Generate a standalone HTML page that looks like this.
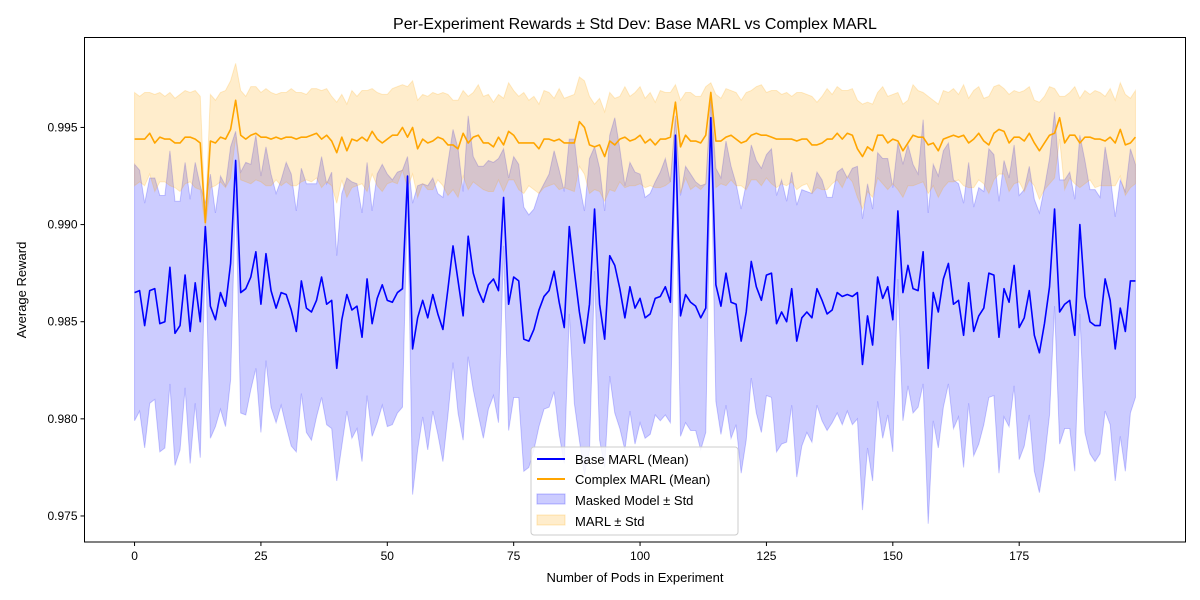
<!DOCTYPE html>
<html><head><meta charset="utf-8"><style>
html,body{margin:0;padding:0;background:#fff;}
svg{display:block;font-family:"Liberation Sans","DejaVu Sans",sans-serif;}
</style></head><body>
<svg id="chart" width="1200" height="600" viewBox="0 0 1200 600">
<rect x="0" y="0" width="1200" height="600" fill="#fff"/>
<text x="635" y="29" font-size="16" text-anchor="middle">Per-Experiment Rewards ± Std Dev: Base MARL vs Complex MARL</text>
<g id="plot"></g>
<rect x="84.5" y="37.5" width="1101" height="504.5" fill="none" stroke="#000" stroke-width="1"/>
<g id="xticks"></g><g id="yticks"></g>
<text x="635" y="582" font-size="13" text-anchor="middle">Number of Pods in Experiment</text>
<text x="26" y="290" font-size="13" text-anchor="middle" transform="rotate(-90 26 290)">Average Reward</text>
<g>
<rect x="531" y="447" width="207" height="88" rx="3" fill="#fff" fill-opacity="0.85" stroke="#ccc"/>
<g><line x1="537" y1="459" x2="565" y2="459" stroke="blue" stroke-width="2"/><text x="575" y="464" font-size="13">Base MARL (Mean)</text></g>
<g><line x1="537" y1="479" x2="565" y2="479" stroke="orange" stroke-width="2"/><text x="575" y="484" font-size="13">Complex MARL (Mean)</text></g>
<g><rect x="537" y="494" width="28" height="10" fill="rgba(0,0,255,0.2)" stroke="rgba(0,0,255,0.25)"/><text x="575" y="505" font-size="13">Masked Model ± Std</text></g>
<g><rect x="537" y="515" width="28" height="10" fill="rgba(255,165,0,0.2)" stroke="rgba(255,165,0,0.25)"/><text x="575" y="526" font-size="13">MARL ± Std</text></g>
</g>
</svg>
<script>
const baseMean=[.9865,.9866,.9848,.9866,.9867,.9849,.9850,.9878,.9844,.9848,
.9874,.9845,.9870,.9850,.9899,.9858,.9851,.9865,.9858,.9880,
.9933,.9865,.9867,.9873,.9886,.9859,.9885,.9866,.9857,.9865,
.9864,.9856,.9845,.9871,.9857,.9855,.9861,.9873,.9859,.9861,
.9826,.9851,.9864,.9856,.9858,.9842,.9872,.9849,.9862,.9869,
.9861,.9860,.9865,.9867,.9925,.9836,.9852,.9861,.9852,.9864,
.9854,.9846,.9867,.9889,.9871,.9853,.9894,.9875,.9866,.9860,
.9869,.9872,.9866,.9914,.9859,.9873,.9871,.9841,.9840,.9846,
.9856,.9863,.9866,.9876,.9860,.9847,.9899,.9876,.9855,.9839,
.9859,.9908,.9859,.9841,.9884,.9879,.9867,.9852,.9868,.9857,
.9862,.9852,.9854,.9862,.9863,.9868,.9860,.9946,.9853,.9864,
.9860,.9858,.9852,.9857,.9955,.9869,.9858,.9875,.9860,.9859,
.9840,.9855,.9881,.9868,.9861,.9874,.9875,.9849,.9855,.9850,
.9867,.9840,.9852,.9855,.9852,.9867,.9861,.9854,.9856,.9865,
.9863,.9864,.9863,.9865,.9828,.9853,.9838,.9873,.9862,.9868,
.9851,.9907,.9865,.9879,.9867,.9866,.9886,.9826,.9865,.9855,
.9872,.9880,.9859,.9861,.9843,.9870,.9845,.9853,.9857,.9875,
.9874,.9842,.9867,.9860,.9879,.9847,.9852,.9866,.9843,.9834,
.9849,.9868,.9908,.9855,.9859,.9861,.9843,.9900,.9863,.9850,
.9848,.9848,.9872,.9861,.9836,.9857,.9845,.9871,.9871];
const baseStd=[.0066,.0062,.0063,.0058,.0057,.0066,.0065,.0060,.0068,.0064,
.0058,.0068,.0062,.0070,.0012,.0068,.0055,.0060,.0062,.0060,
.0015,.0062,.0065,.0058,.0060,.0066,.0055,.0060,.0059,.0058,
.0068,.0070,.0062,.0058,.0064,.0066,.0060,.0062,.0062,.0066,
.0058,.0065,.0060,.0066,.0063,.0064,.0060,.0058,.0064,.0062,
.0065,.0063,.0062,.0061,.0010,.0075,.0068,.0060,.0068,.0060,
.0062,.0068,.0065,.0060,.0068,.0064,.0062,.0060,.0064,.0070,
.0064,.0060,.0068,.0025,.0065,.0062,.0060,.0068,.0065,.0062,
.0060,.0058,.0060,.0062,.0068,.0070,.0045,.0068,.0066,.0068,
.0075,.0032,.0070,.0066,.0062,.0076,.0072,.0068,.0064,.0070,
.0064,.0062,.0062,.0060,.0064,.0066,.0062,.0010,.0062,.0066,
.0066,.0064,.0068,.0064,.0010,.0060,.0066,.0068,.0070,.0062,
.0068,.0066,.0060,.0065,.0068,.0062,.0064,.0066,.0068,.0062,
.0060,.0070,.0066,.0062,.0064,.0060,.0062,.0060,.0058,.0062,
.0066,.0060,.0066,.0065,.0075,.0068,.0070,.0064,.0072,.0066,
.0068,.0035,.0066,.0062,.0064,.0060,.0068,.0080,.0066,.0070,
.0066,.0062,.0064,.0060,.0068,.0062,.0064,.0066,.0060,.0064,
.0062,.0070,.0066,.0064,.0062,.0068,.0066,.0064,.0070,.0072,
.0070,.0066,.0050,.0068,.0064,.0066,.0070,.0046,.0070,.0068,
.0070,.0066,.0068,.0064,.0068,.0066,.0072,.0068,.0060];
const complexMean=[.9944,.9944,.9944,.9947,.9942,.9945,.9944,.9944,.9942,.9942,
.9945,.9945,.9944,.9942,.9901,.9943,.9942,.9945,.9944,.9949,
.9964,.9946,.9944,.9946,.9947,.9945,.9945,.9944,.9945,.9944,
.9945,.9945,.9944,.9945,.9945,.9946,.9947,.9944,.9946,.9943,
.9937,.9945,.9938,.9944,.9943,.9945,.9943,.9948,.9944,.9942,
.9944,.9946,.9946,.9950,.9945,.9950,.9939,.9944,.9942,.9943,
.9945,.9944,.9941,.9941,.9939,.9947,.9942,.9945,.9946,.9942,
.9942,.9940,.9945,.9941,.9948,.9946,.9942,.9942,.9942,.9942,
.9939,.9944,.9944,.9943,.9944,.9942,.9942,.9942,.9953,.9950,
.9941,.9940,.9941,.9935,.9943,.9941,.9944,.9945,.9943,.9944,
.9946,.9942,.9944,.9941,.9944,.9944,.9945,.9963,.9940,.9946,
.9943,.9943,.9942,.9946,.9968,.9943,.9943,.9945,.9946,.9944,
.9942,.9943,.9946,.9947,.9946,.9946,.9945,.9944,.9944,.9944,
.9944,.9943,.9944,.9944,.9941,.9941,.9942,.9944,.9944,.9947,
.9944,.9947,.9946,.9939,.9935,.9940,.9938,.9946,.9946,.9942,
.9944,.9943,.9938,.9942,.9946,.9945,.9945,.9941,.9942,.9938,
.9944,.9945,.9946,.9945,.9946,.9942,.9944,.9947,.9943,.9941,
.9947,.9949,.9948,.9942,.9945,.9945,.9943,.9947,.9942,.9938,
.9942,.9946,.9947,.9955,.9942,.9946,.9946,.9942,.9945,.9945,
.9944,.9944,.9943,.9945,.9942,.9949,.9941,.9942,.9945];
const complexStd=[.0024,.0022,.0024,.0021,.0025,.0023,.0022,.0024,.0023,.0025,
.0024,.0023,.0025,.0024,.0002,.0024,.0022,.0023,.0025,.0025,
.0019,.0023,.0022,.0025,.0024,.0023,.0025,.0024,.0022,.0024,
.0023,.0025,.0024,.0023,.0022,.0024,.0023,.0025,.0024,.0023,
.0026,.0022,.0024,.0025,.0023,.0024,.0026,.0022,.0024,.0025,
.0023,.0024,.0025,.0022,.0026,.0024,.0025,.0023,.0024,.0025,
.0022,.0024,.0026,.0023,.0025,.0022,.0024,.0023,.0026,.0024,
.0025,.0023,.0022,.0024,.0025,.0023,.0024,.0026,.0022,.0024,
.0023,.0025,.0024,.0022,.0026,.0023,.0024,.0025,.0023,.0024,
.0025,.0022,.0024,.0023,.0025,.0024,.0022,.0026,.0023,.0024,
.0025,.0023,.0024,.0022,.0025,.0024,.0023,.0009,.0024,.0022,
.0025,.0023,.0024,.0025,.0005,.0024,.0022,.0025,.0023,.0024,
.0022,.0025,.0023,.0024,.0026,.0022,.0024,.0025,.0023,.0024,
.0022,.0025,.0024,.0023,.0025,.0022,.0024,.0026,.0023,.0024,
.0025,.0022,.0024,.0025,.0027,.0023,.0024,.0022,.0025,.0024,
.0023,.0025,.0024,.0022,.0026,.0024,.0023,.0025,.0022,.0024,
.0025,.0023,.0024,.0022,.0026,.0023,.0025,.0024,.0022,.0025,
.0024,.0023,.0022,.0025,.0024,.0023,.0026,.0024,.0022,.0025,
.0024,.0025,.0023,.0011,.0024,.0022,.0025,.0023,.0024,.0022,
.0025,.0024,.0023,.0025,.0022,.0024,.0026,.0023,.0024];
const xTicks=[0,25,50,75,100,125,150,175];
const yTicks=[0.975,0.980,0.985,0.990,0.995];
const yTickLabels=["0.975","0.980","0.985","0.990","0.995"];

const NS="http://www.w3.org/2000/svg";
const X0=84.5,X1=1185.5,Y0=542,Y1=37.5;
const n=baseMean.length;
const xmin=-0.05*(n-1),xmax=(n-1)*1.05;
const ymin=0.97366,ymax=0.99963;
function sx(i){return X0+(i-xmin)/(xmax-xmin)*(X1-X0);}
function sy(v){return Y0-(v-ymin)/(ymax-ymin)*(Y0-Y1);}
const plot=document.getElementById('plot');
function mk(tag,attrs){const e=document.createElementNS(NS,tag);for(const k in attrs)e.setAttribute(k,attrs[k]);return e;}
function band(mean,std,fill,stroke,name){
  let up=[],lo=[];
  for(let i=0;i<n;i++){up.push(sx(i).toFixed(2)+','+sy(mean[i]+std[i]).toFixed(2));lo.push(sx(i).toFixed(2)+','+sy(mean[i]-std[i]).toFixed(2));}
  const p=mk('polygon',{points:up.concat(lo.reverse()).join(' '),fill:fill,stroke:stroke,'stroke-width':1});
  
  
  plot.appendChild(p);
}
function line(mean,color,name){
  let pts=[];for(let i=0;i<n;i++)pts.push(sx(i).toFixed(2)+','+sy(mean[i]).toFixed(2));
  const p=mk('polyline',{points:pts.join(' '),fill:'none',stroke:color,'stroke-width':1.6,'stroke-linejoin':'round'});
  
  
  plot.appendChild(p);
}
band(baseMean,baseStd,'rgba(0,0,255,0.2)','rgba(0,0,255,0.2)');

band(complexMean,complexStd,'rgba(255,165,0,0.2)','rgba(255,165,0,0.2)','complex-std-band');
line(baseMean,'blue','base-mean-line');
line(complexMean,'orange','complex-mean-line');
const xt=document.getElementById('xticks');
xTicks.forEach(t=>{
  const g=mk('g',{});
  
  
  g.appendChild(mk('line',{x1:sx(t),x2:sx(t),y1:Y0,y2:Y0+4,stroke:'#000'}));
  const tx=mk('text',{x:sx(t),y:Y0+18,'font-size':12,'text-anchor':'middle'});tx.textContent=t;g.appendChild(tx);
  xt.appendChild(g);
});
const yt=document.getElementById('yticks');
yTicks.forEach((t,k)=>{
  const g=mk('g',{});
  
  
  g.appendChild(mk('line',{x1:X0-4,x2:X0,y1:sy(t),y2:sy(t),stroke:'#000'}));
  const tx=mk('text',{x:X0-7,y:sy(t)+4,'font-size':12,'text-anchor':'end'});tx.textContent=yTickLabels[k];g.appendChild(tx);
  yt.appendChild(g);
});
</script>
</body></html>
